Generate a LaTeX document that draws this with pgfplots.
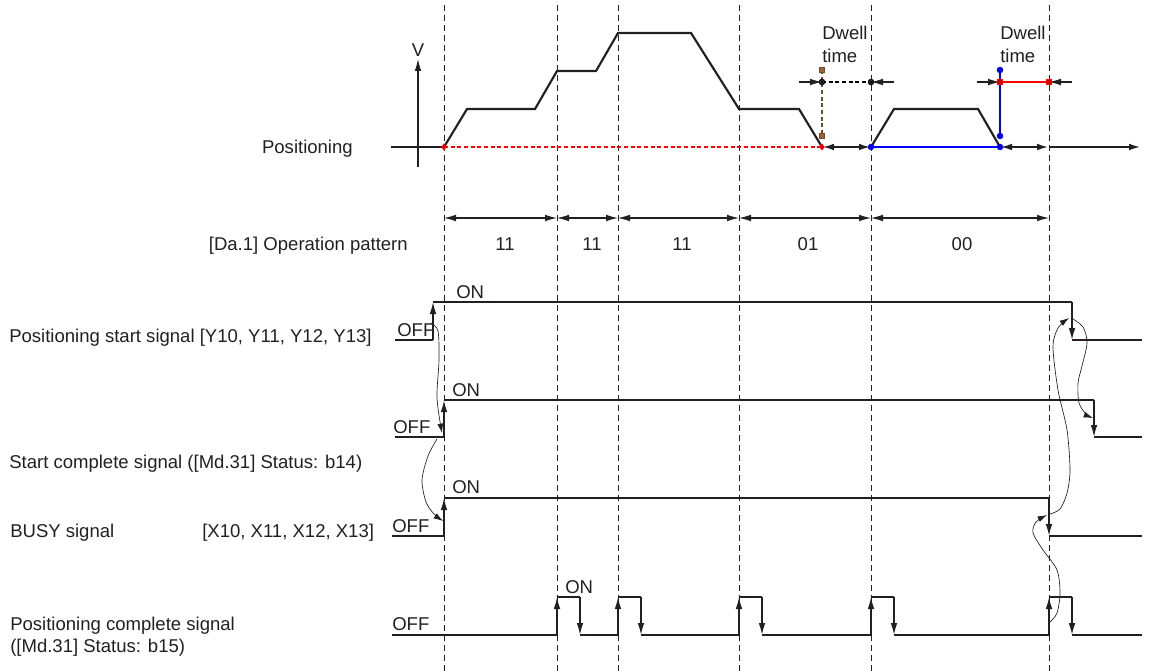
\documentclass[border=0pt]{standalone}
\usepackage{pgfplots}
\pgfplotsset{compat=1.18}
\usetikzlibrary{arrows.meta}
\usepackage{fontspec}
\setmainfont{Liberation Sans}
\definecolor{ink}{RGB}{35,31,32}
\newcommand\f{\fontsize{13.9}{16}\selectfont}
\begin{document}
\begin{tikzpicture}
\begin{axis}[x=0.75pt,y=0.75pt,y dir=reverse,
  xmin=0,xmax=1151,ymin=0,ymax=671,
  axis lines=none, clip=false,
  every axis plot/.append style={color=ink, line width=0.8pt, mark=none},
  nodes={font=\f, text=ink, inner sep=0pt},
  dash/.style={dash pattern=on 4.5pt off 3pt, line width=0.75pt},
  ar/.style={-{Latex[length=9pt,width=5pt]}},
  dar/.style={{Latex[length=9pt,width=5pt]}-{Latex[length=9pt,width=5pt]}},
  car/.style={-{Latex[length=7pt,width=4.5pt]}, line width=0.5pt, smooth},
  thk/.style={line width=1.6pt},
  sig/.style={line width=1.1pt},
]
% bounding box
\addplot[draw=none] coordinates {(0,0) (1151,671)};
% dashed guides
\addplot[dash] coordinates {(444,5) (444,671)};
\addplot[dash] coordinates {(557,5) (557,671)};
\addplot[dash] coordinates {(618,5) (618,671)};
\addplot[dash] coordinates {(739,5) (739,671)};
\addplot[dash] coordinates {(871,5) (871,671)};
\addplot[dash] coordinates {(1049,5) (1049,671)};

% ---- Positioning (velocity) ----
\addplot[ar] coordinates {(418,167) (418,59)};
\node at (axis cs:418,50) {V};
\addplot[thk] coordinates {(391,147) (444,147)};
\addplot coordinates {(444,147) (822,147)};
\addplot coordinates {(871,147) (1000,147)};
\addplot[thk, ar] coordinates {(1049,147) (1141,147)};
\addplot[thk] coordinates {(444,147) (467,109) (535,109) (557,71) (596,71) (618,33) (691,33) (739,109) (799,109) (822,147)};
\addplot[thk] coordinates {(871,147) (894,109) (978,109) (1000,147)};
\addplot[thk, dar] coordinates {(822,147) (871,147)};
\addplot[thk, dar] coordinates {(1000,147) (1049,147)};
\node[anchor=base east] at (axis cs:353,153.5) {Positioning};

% dwell time marks
\addplot coordinates {(822,70) (822,136)};
\addplot coordinates {(822,82) (871,82)};
\addplot[ar] coordinates {(799,82) (822,82)};
\addplot[ar] coordinates {(894,82) (871,82)};
\node[anchor=base west] at (axis cs:822,40) {Dwell};
\node[anchor=base west] at (axis cs:822,63) {time};
\addplot coordinates {(1000,70) (1000,136)};
\addplot coordinates {(1000,82) (1049,82)};
\addplot[ar] coordinates {(977,82) (1000,82)};
\addplot[ar] coordinates {(1072,82) (1049,82)};
\node[anchor=base west] at (axis cs:1000,40) {Dwell};
\node[anchor=base west] at (axis cs:1000,63) {time};

% ---- Operation pattern ----
\addplot[dar] coordinates {(444,218) (557,218)};
\addplot[dar] coordinates {(557,218) (618,218)};
\addplot[dar] coordinates {(618,218) (739,218)};
\addplot[dar] coordinates {(739,218) (871,218)};
\addplot[dar] coordinates {(871,218) (1049,218)};
\node[anchor=base] at (axis cs:505,250) {11};
\node[anchor=base] at (axis cs:592,250) {11};
\node[anchor=base] at (axis cs:682,250) {11};
\node[anchor=base] at (axis cs:808,250) {01};
\node[anchor=base] at (axis cs:962,250) {00};
\node[anchor=base east] at (axis cs:408,250) {[Da.1] Operation pattern};

% ---- Positioning start signal ----
\node[anchor=base west] at (axis cs:9,342) {Positioning start signal [Y10, Y11, Y12, Y13]};
\addplot[thk] coordinates {(395,340) (433,340)};
\addplot[sig, ar] coordinates {(433,340) (433,302)};
\addplot[thk] coordinates {(433,302) (482,302)};
\addplot[sig] coordinates {(482,302) (1072,302)};
\addplot[sig, ar] coordinates {(1072,302) (1072,340)};
\addplot[thk] coordinates {(1072,340) (1142,340)};
\node[anchor=base west] at (axis cs:397,336) {OFF};
\node[anchor=base west] at (axis cs:456,298) {ON};

% ---- Start complete signal ----
\node[anchor=base west] at (axis cs:9,468) {Start complete signal ([Md.31] Status: b14)};
\addplot[sig] coordinates {(395,437) (444,437)};
\addplot[sig, ar] coordinates {(444,437) (444,400)};
\addplot[sig] coordinates {(444,400) (1094,400)};
\addplot[sig, ar] coordinates {(1094,400) (1094,437)};
\addplot[thk] coordinates {(1094,437) (1142,437)};
\node[anchor=base west] at (axis cs:393,433) {OFF};
\node[anchor=base west] at (axis cs:452,396) {ON};

% ---- BUSY signal ----
\node[anchor=base west] at (axis cs:10,537) {BUSY signal};
\node[anchor=base west] at (axis cs:202,537) {[X10, X11, X12, X13]};
\addplot[sig] coordinates {(392,536) (444,536)};
\addplot[sig, ar] coordinates {(444,536) (444,498)};
\addplot[sig] coordinates {(444,498) (1049,498)};
\addplot[sig, ar] coordinates {(1049,498) (1049,536)};
\addplot[thk] coordinates {(1049,536) (1142,536)};
\node[anchor=base west] at (axis cs:392,532) {OFF};
\node[anchor=base west] at (axis cs:452,493) {ON};

% ---- Positioning complete signal ----
\node[anchor=base west] at (axis cs:10,630) {Positioning complete signal};
\node[anchor=base west] at (axis cs:10,652) {([Md.31] Status: b15)};
\node[anchor=base west] at (axis cs:392,630) {OFF};
\node[anchor=base west] at (axis cs:565,593) {ON};
\addplot[sig] coordinates {(392,635) (557,635)};
\addplot[sig, ar] coordinates {(557,635) (557,597)};
\addplot[sig] coordinates {(557,597) (580,597)};
\addplot[sig, ar] coordinates {(580,597) (580,635)};
\addplot[sig] coordinates {(580,635) (618,635)};
\addplot[sig, ar] coordinates {(618,635) (618,597)};
\addplot[sig] coordinates {(618,597) (641,597)};
\addplot[sig, ar] coordinates {(641,597) (641,635)};
\addplot[sig] coordinates {(641,635) (739,635)};
\addplot[sig, ar] coordinates {(739,635) (739,597)};
\addplot[sig] coordinates {(739,597) (762,597)};
\addplot[sig, ar] coordinates {(762,597) (762,635)};
\addplot[sig] coordinates {(762,635) (871,635)};
\addplot[sig, ar] coordinates {(871,635) (871,597)};
\addplot[thk] coordinates {(871,597) (894,597)};
\addplot[sig, ar] coordinates {(894,597) (894,635)};
\addplot[sig] coordinates {(894,635) (1049,635)};
\addplot[sig, ar] coordinates {(1049,635) (1049,597)};
\addplot[sig] coordinates {(1049,597) (1072,597)};
\addplot[sig, ar] coordinates {(1072,597) (1072,635)};
\addplot[sig] coordinates {(1072,635) (1142,635)};

% ---- causal curves ----
\addplot[car] coordinates {(431,323) (438,331) (439,360) (437,398) (442,433)};
\addplot[car] coordinates {(437,439) (428,456) (422,480) (426,502) (434,514) (443,521)};
\addplot[car] coordinates {(1050,514) (1060,509) (1067,493) (1070,470) (1067,430) (1058,390) (1053,347) (1058,328) (1069,318)};
\addplot[car] coordinates {(1071.5,318) (1083,327) (1087,343) (1082,366) (1078,383) (1079,403) (1086,414) (1093,418)};
\addplot[car] coordinates {(1050,622) (1057,613) (1060,593) (1057,570) (1043,550) (1033,533) (1036,522) (1047,515)};
\end{axis}
\end{tikzpicture}
\end{document}
